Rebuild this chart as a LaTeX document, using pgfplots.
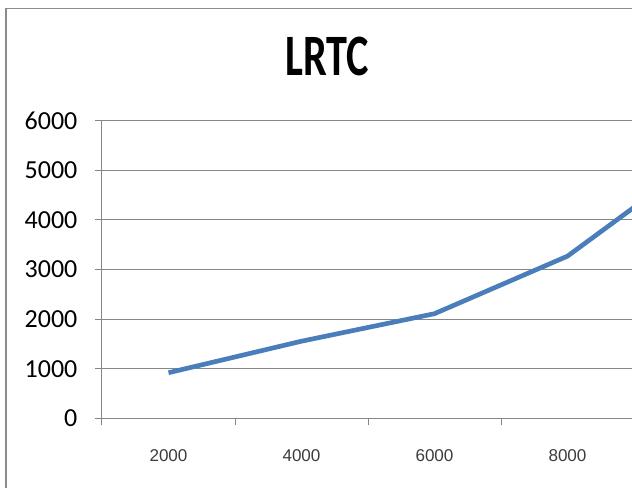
\documentclass[border=0pt]{standalone}
\usepackage{pgfplots}
\pgfplotsset{compat=1.18}
\usepackage{fontspec}
\setmainfont{Carlito}
\newfontfamily\arialf{Liberation Sans}
\definecolor{lineblue}{RGB}{74,126,187}
\definecolor{gridgray}{RGB}{134,134,134}
\definecolor{framegray}{RGB}{140,140,140}
\definecolor{labelgray}{RGB}{60,60,60}
\begin{document}
\begin{tikzpicture}
\path[use as bounding box, clip] (0pt,0pt) rectangle (474pt,365.25pt);
\fill[white] (0pt,0pt) rectangle (474pt,365.25pt);
\draw[framegray, line width=1.2pt] (4.3pt,-10pt) -- (4.3pt,359pt) -- (490pt,359pt);
\begin{axis}[
  at={(76.5pt,51.5pt)}, anchor=south west,
  scale only axis, width=498.75pt, height=223.2pt,
  xmin=0.5, xmax=5.5, ymin=0, ymax=6000,
  axis lines*=left,
  axis line style={gridgray, line width=0.75pt},
  clip=false,
  xtick={1,2,3,4},
  xticklabels={2000,4000,6000,8000},
  minor xtick={0.5,1.5,2.5,3.5,4.5,5.5},
  ytick={0,1000,2000,3000,4000,5000,6000},
  major x tick style={draw=none},
  tick align=outside,
  major tick length=5.25pt,
  minor tick length=5.25pt,
  tick style={gridgray, line width=0.75pt},
  ymajorgrids,
  major grid style={gridgray, line width=0.75pt},
  /pgf/number format/assume math mode=true,
  /pgf/number format/1000 sep={},
  yticklabel style={font=\fontsize{19.5}{20}\selectfont, anchor=east, inner sep=0pt, xshift=-13pt},
  xticklabel style={font=\arialf\fontsize{12.8}{14}\selectfont, text=labelgray, anchor=center, yshift=-23pt},
]
\addplot[lineblue, line width=3.5pt, line join=round] coordinates {
  (1,920) (2,1555) (3,2110) (4,3270) (5,5240)
};
\end{axis}
\node[font=\bfseries\fontsize{44}{46}\selectfont] at (245.6pt,323.25pt) {\scalebox{0.72}[1]{LRTC}};
\end{tikzpicture}
\end{document}
